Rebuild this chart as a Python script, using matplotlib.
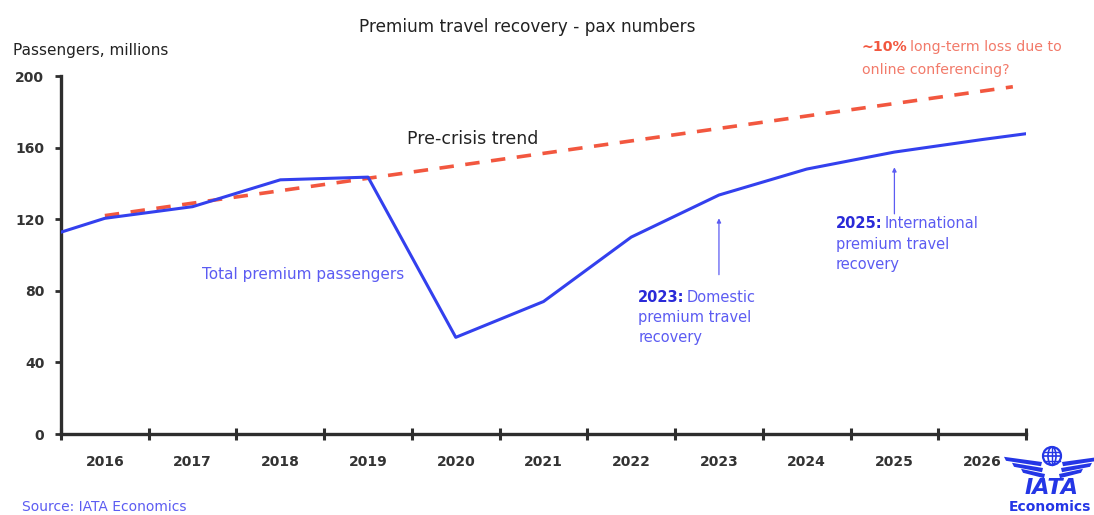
import matplotlib
matplotlib.use("Agg")
import matplotlib.pyplot as plt
from matplotlib.patches import Circle, Ellipse, Polygon

# premium passengers, millions (2015 and 2027 only extend the line to the frame edges)
years = [2015, 2016, 2017, 2018, 2019, 2020, 2021, 2022, 2023, 2024, 2025, 2026, 2027]
premium_pax = [105, 120.5, 127, 142, 143.5, 54, 74, 110, 133.5, 148, 157.5, 164.5, 171]

# pre-crisis trend line
trend_years = [2016, 2026.35]
trend_pax = [122, 194]

year_labels = [str(y) for y in range(2016, 2027)]
y_ticks = [0, 40, 80, 120, 160, 200]

BLUE = "#3340ee"
LIGHT_BLUE = "#5c5cf2"
DARK_BLUE = "#2a2ad8"
RED = "#f2573f"
SALMON = "#f27a6a"
AXIS = "#2e2e2e"
TEXT = "#333333"

plt.rcParams["font.family"] = ["DejaVu Sans"]

fig = plt.figure(figsize=(10.94, 5.15), dpi=100)
fig.patch.set_facecolor("white")
ax = fig.add_axes([61 / 1094, 1 - 434 / 515, (1026 - 61) / 1094, (434 - 76) / 515])

ax.plot(trend_years, trend_pax, color=RED, lw=2.6, ls=(0, (4, 3.2)), zorder=2)
ax.plot(years, premium_pax, color=BLUE, lw=2.2, zorder=3, clip_on=True)

ax.set_xlim(2015.5, 2026.5)
ax.set_ylim(0, 200)

# category boundaries as major ticks, year labels centred between them
ax.set_xticks([y + 0.5 for y in range(2015, 2027)])
ax.set_xticklabels([])
ax.set_xticks(list(range(2016, 2027)), minor=True)
ax.set_xticklabels(year_labels, minor=True, fontsize=10, color=TEXT, fontweight="semibold")
ax.tick_params(axis="x", which="major", direction="inout", length=9, width=2.2, color=AXIS)
ax.tick_params(axis="x", which="minor", length=0, pad=15)

ax.set_yticks(y_ticks)
ax.set_yticklabels([str(v) for v in y_ticks], fontsize=10, color=TEXT, fontweight="semibold")
ax.tick_params(axis="y", direction="out", length=4, width=2, color=AXIS, pad=8)

for side in ("top", "right"):
    ax.spines[side].set_visible(False)
for side in ("left", "bottom"):
    ax.spines[side].set_color(AXIS)
    ax.spines[side].set_linewidth(2.4)

# titles
fig.text(527 / 1094, 1 - 27 / 515, "Premium travel recovery - pax numbers",
         ha="center", va="center", fontsize=12.2, color="#222222")
fig.text(13 / 1094, 1 - 50 / 515, "Passengers, millions",
         ha="left", va="center", fontsize=11, color="#222222")

ax.text(2020.19, 165, "Pre-crisis trend", ha="center", va="center",
        fontsize=12.5, color="#222222")
ax.text(2018.26, 89, "Total premium passengers", ha="center", va="center",
        fontsize=11, color=LIGHT_BLUE)

renderer = fig.canvas.get_renderer()


def two_tone(x, y, bold, rest, size, bold_color, rest_color, extra_lines=(), spacing=1.4):
    """Bold lead-in followed by regular text, then further regular lines."""
    t = ax.text(x, y, bold, ha="left", va="baseline", fontsize=size,
                fontweight="bold", color=bold_color)
    bb = t.get_window_extent(renderer)
    x_disp, y_disp = ax.transData.transform((x, y))
    x_rest = ax.transData.inverted().transform((bb.x1 + 2, y_disp))[0]
    ax.text(x_rest, y, rest, ha="left", va="baseline", fontsize=size, color=rest_color)
    line_h = size * spacing * 100 / 72
    for i, line in enumerate(extra_lines, start=1):
        yy = ax.transData.inverted().transform((x_disp, y_disp - i * line_h))[1]
        ax.text(x, yy, line, ha="left", va="baseline", fontsize=size, color=rest_color)


two_tone(2022.08, 74, "2023:", "Domestic", 10.5, DARK_BLUE, LIGHT_BLUE,
         ["premium travel", "recovery"])
two_tone(2024.33, 115, "2025:", "International", 10.5, DARK_BLUE, LIGHT_BLUE,
         ["premium travel", "recovery"])
two_tone(2024.63, 214, "~10%", "long-term loss due to", 10.2, RED, SALMON,
         ["online conferencing?"], spacing=1.6)

# pointer arrows to the recovery years
ax.annotate("", xy=(2023, 120.5), xytext=(2023, 89),
            arrowprops=dict(arrowstyle="-|>", color=LIGHT_BLUE, lw=0.9,
                            mutation_scale=6, shrinkA=0, shrinkB=0))
ax.annotate("", xy=(2025, 149), xytext=(2025, 123),
            arrowprops=dict(arrowstyle="-|>", color=LIGHT_BLUE, lw=0.9,
                            mutation_scale=6, shrinkA=0, shrinkB=0))

fig.text(22 / 1094, 1 / 515, "Source: IATA Economics", ha="left", va="bottom",
         fontsize=10, color=LIGHT_BLUE)

# IATA logo, bottom right
logo = fig.add_axes([1000 / 1094, 0, 94 / 1094, 78 / 515])
logo.set_xlim(0, 94)
logo.set_ylim(0, 78)
logo.axis("off")
LOGO = "#2436e6"
logo.add_patch(Circle((52, 59), 9, fc="none", ec=LOGO, lw=1.6))
logo.add_patch(Ellipse((52, 59), 8, 18, fc="none", ec=LOGO, lw=1.2))
logo.plot([43, 61], [59, 59], color=LOGO, lw=1.2)
logo.plot([44.5, 59.5], [63.5, 63.5], color=LOGO, lw=1.0)
logo.plot([44.5, 59.5], [54.5, 54.5], color=LOGO, lw=1.0)
logo.plot([52, 52], [50, 68], color=LOGO, lw=1.0)
# wings: three tapered stripes each side, shortening towards the bottom
for sgn in (-1, 1):
    cx = 52
    for y0, outer, inner in [(56, 48, 10), (50, 40, 9), (44, 31, 7)]:
        pts = [(cx + sgn * inner, y0 - 3.0), (cx + sgn * outer, y0 + 2.2),
               (cx + sgn * (outer - 2), y0 - 1.8), (cx + sgn * (inner + 1), y0 - 7.2)]
        logo.add_patch(Polygon(pts, closed=True, fc=LOGO, ec="none", clip_on=False))
logo.text(52, 27, "IATA", ha="center", va="center", fontsize=16, fontweight="heavy",
          fontstyle="italic", color=LOGO)
logo.text(50, 1, "Economics", ha="center", va="bottom", fontsize=10, fontweight="bold",
          color=LOGO)

fig.savefig("out.png", dpi=100, facecolor="white")
